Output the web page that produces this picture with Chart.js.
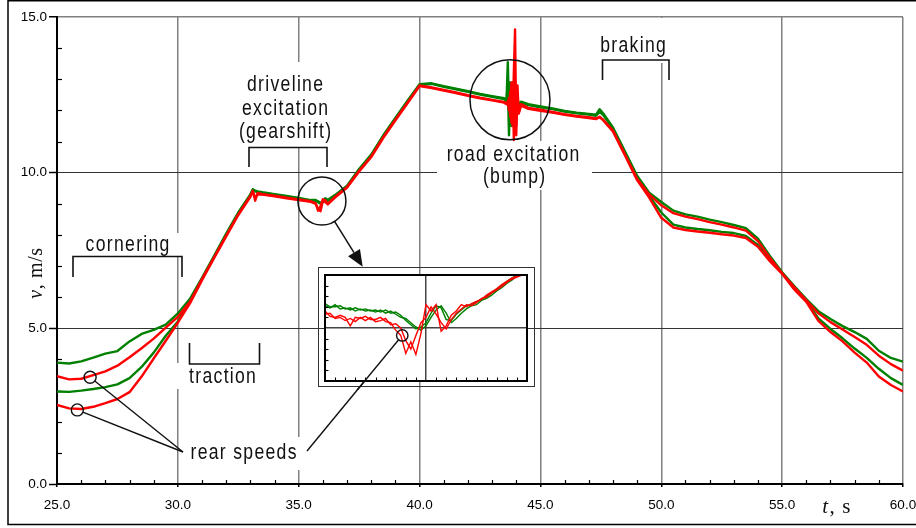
<!DOCTYPE html>
<html>
<head>
<meta charset="utf-8">
<title>Wheel speeds</title>
<script src="https://cdn.jsdelivr.net/npm/chart.js@4.4.1/dist/chart.umd.min.js"></script>
<style>
  html, body { margin: 0; padding: 0; background: #fff; }
  #wrap { position: relative; width: 916px; height: 528px; overflow: hidden; background: #fff; }
  #main { position: absolute; left: 0; top: 0; width: 916px; height: 528px; }
  #inset { position: absolute; left: 316px; top: 266px; width: 222px; height: 124px; }
</style>
</head>
<body>
<div id="wrap">
  <canvas id="main" width="916" height="528"></canvas>
  <canvas id="inset" width="222" height="124"></canvas>
</div>
<script>
// ---- main plot: time (s) and wheel speeds (m/s) ----
const time = [
  25.0, 25.5, 26.0, 26.5, 27.0, 27.5, 28.0, 28.5, 29.0, 29.5, 30.0, 30.5, 31.0, 31.5, 32.0, 32.5,
  33.0, 33.1, 33.2, 33.3, 33.5, 34.0, 34.5, 35.0,
  35.5, 35.7, 35.8, 35.9, 36.0, 36.1, 36.2, 36.5,
  37.0, 37.5, 38.0, 38.5, 39.0, 39.5, 40.0, 40.5, 41.0, 41.5, 42.0, 42.5, 43.0,
  43.5, 43.6, 43.65, 43.7, 43.75, 43.8, 43.85, 43.9, 43.95, 44.0, 44.05, 44.1, 44.2, 44.5,
  45.0, 45.5, 46.0, 46.5, 47.0, 47.3, 47.45, 47.6,
  48.0, 48.5, 49.0, 49.5, 50.0, 50.5, 51.0, 51.5, 52.0, 52.5, 53.0, 53.5,
  54.0, 54.5, 55.0, 55.5, 56.0, 56.5, 57.0, 57.5, 58.0, 58.5, 59.0, 59.5, 60.0
];

// front wheels (green)
const frontOuter = [
  3.90, 3.87, 3.94, 4.06, 4.19, 4.27, 4.58, 4.82, 4.95, 5.12, 5.48, 5.95, 6.62, 7.33, 8.04, 8.72,
  9.30, 9.47, 9.42, 9.40, 9.37, 9.31, 9.25, 9.19,
  9.12, 9.12, 9.08, 9.03, 9.05, 9.18, 9.12, 9.28,
  9.58, 10.12, 10.58, 11.20, 11.76, 12.31, 12.84, 12.87, 12.78, 12.70, 12.62, 12.53, 12.46,
  12.39, 12.35, 13.55, 12.00, 12.90, 11.70, 12.60, 12.00, 12.50, 12.10, 12.35, 12.20, 12.28, 12.20,
  12.13, 12.06, 11.98, 11.93, 11.89, 11.86, 12.04, 11.90,
  11.45, 10.68, 9.90, 9.36, 9.06, 8.78, 8.66, 8.59, 8.49, 8.41, 8.32, 8.22,
  7.88, 7.32, 6.80, 6.36, 5.94, 5.55, 5.30, 5.07, 4.88, 4.66, 4.28, 4.05, 3.93
];
const frontInner = [
  2.97, 2.96, 3.00, 3.05, 3.11, 3.20, 3.40, 3.76, 4.22, 4.76, 5.22, 5.90, 6.60, 7.30, 8.01, 8.70,
  9.28, 9.44, 9.40, 9.38, 9.35, 9.29, 9.23, 9.17,
  9.10, 9.10, 9.05, 9.00, 9.08, 9.15, 9.10, 9.26,
  9.56, 10.10, 10.55, 11.18, 11.74, 12.29, 12.82, 12.85, 12.76, 12.68, 12.60, 12.51, 12.44,
  12.36, 12.30, 12.90, 11.20, 12.70, 11.50, 12.80, 11.60, 12.40, 11.90, 12.30, 12.10, 12.25, 12.17,
  12.10, 12.04, 11.96, 11.91, 11.87, 11.83, 11.95, 11.85,
  11.42, 10.64, 9.86, 9.25, 8.72, 8.33, 8.24, 8.19, 8.15, 8.10, 8.06, 7.97,
  7.68, 7.20, 6.77, 6.30, 5.88, 5.32, 4.98, 4.68, 4.35, 4.05, 3.70, 3.40, 3.18
];
// rear wheels (red)
const rearOuter = [
  3.46, 3.36, 3.38, 3.50, 3.62, 3.80, 4.07, 4.36, 4.67, 5.02, 5.37, 5.85, 6.58, 7.28, 7.98, 8.66,
  9.25, 9.42, 9.10, 9.35, 9.31, 9.26, 9.20, 9.14,
  9.08, 9.02, 8.78, 8.92, 9.15, 9.05, 9.00, 9.22,
  9.54, 10.06, 10.52, 11.14, 11.70, 12.25, 12.80, 12.74, 12.66, 12.58, 12.49, 12.41, 12.34,
  12.27, 12.22, 12.20, 12.40, 11.80, 12.90, 11.50, 13.20, 14.60, 11.20, 12.80, 11.90, 12.20, 12.08,
  12.02, 11.95, 11.88, 11.82, 11.78, 11.74, 11.78, 11.70,
  11.35, 10.58, 9.80, 9.30, 8.95, 8.70, 8.59, 8.51, 8.41, 8.33, 8.24, 8.14,
  7.80, 7.26, 6.77, 6.33, 5.90, 5.48, 5.20, 4.96, 4.72, 4.47, 4.12, 3.85, 3.64
];
const rearInner = [
  2.54, 2.43, 2.41, 2.48, 2.60, 2.73, 2.95, 3.45, 4.03, 4.60, 5.18, 5.80, 6.55, 7.26, 7.95, 8.64,
  9.22, 9.40, 9.20, 9.30, 9.30, 9.24, 9.18, 9.12,
  9.06, 9.00, 8.85, 8.76, 9.10, 9.12, 8.98, 9.20,
  9.52, 10.04, 10.50, 11.12, 11.68, 12.23, 12.78, 12.72, 12.64, 12.56, 12.47, 12.39, 12.32,
  12.25, 12.20, 12.30, 12.00, 12.60, 11.60, 12.90, 11.05, 13.00, 11.50, 12.60, 11.90, 12.15, 12.05,
  11.99, 11.93, 11.86, 11.80, 11.75, 11.72, 11.80, 11.68,
  11.32, 10.55, 9.76, 9.20, 8.55, 8.24, 8.16, 8.11, 8.07, 8.02, 7.98, 7.90,
  7.62, 7.15, 6.75, 6.25, 5.85, 5.24, 4.88, 4.58, 4.22, 3.90, 3.45, 3.18, 2.97
];

const xTickValues = [25, 30, 35, 40, 45, 50, 55, 60];
const yTickValues = [0, 5, 10, 15];

// ---- magnified gearshift window (raw samples) ----
const insetTime = [
  35.00, 35.05, 35.10, 35.15, 35.20, 35.25, 35.30, 35.35, 35.40, 35.45,
  35.50, 35.55, 35.60, 35.65, 35.70, 35.75, 35.80, 35.85, 35.90, 35.95,
  36.00, 36.05, 36.10, 36.15, 36.20, 36.25, 36.30, 36.35, 36.40, 36.45,
  36.50, 36.55, 36.60, 36.65, 36.70, 36.75, 36.80, 36.85, 36.90, 36.95,
  37.00
];
const insetFrontA = [
  9.21, 9.19, 9.22, 9.18, 9.19, 9.17, 9.19, 9.17, 9.18, 9.16,
  9.17, 9.15, 9.17, 9.14, 9.15, 9.12, 9.07, 9.03, 8.99, 9.01,
  9.05, 9.14, 9.21, 9.19, 9.08, 9.07, 9.13, 9.17, 9.21, 9.22,
  9.25, 9.27, 9.30, 9.33, 9.37, 9.40, 9.44, 9.47, 9.50, 9.52,
  9.54
];
const insetFrontB = [
  9.23, 9.20, 9.20, 9.21, 9.18, 9.19, 9.16, 9.18, 9.16, 9.17,
  9.15, 9.17, 9.14, 9.16, 9.13, 9.10, 9.09, 9.05, 9.01, 8.98,
  9.02, 9.10, 9.17, 9.21, 9.14, 9.05, 9.09, 9.14, 9.18, 9.21,
  9.22, 9.26, 9.28, 9.31, 9.35, 9.38, 9.42, 9.45, 9.49, 9.51,
  9.53
];
const insetRearA = [
  9.16, 9.11, 9.10, 9.12, 9.10, 9.02, 9.10, 9.09, 9.11, 9.08,
  9.08, 9.10, 9.06, 9.05, 8.98, 8.93, 8.76, 8.87, 8.75, 8.95,
  9.22, 9.16, 9.22, 8.97, 9.02, 9.12, 9.16, 9.22, 9.20, 9.23,
  9.25, 9.27, 9.31, 9.34, 9.37, 9.41, 9.44, 9.47, 9.49, 9.51,
  9.53
];
const insetRearB = [
  9.13, 9.14, 9.09, 9.10, 9.07, 9.09, 9.06, 9.10, 9.07, 9.10,
  9.06, 9.07, 9.09, 9.03, 9.04, 9.00, 8.88, 8.80, 8.93, 9.05,
  9.10, 9.20, 9.13, 9.05, 8.99, 9.08, 9.14, 9.18, 9.22, 9.21,
  9.24, 9.28, 9.29, 9.33, 9.36, 9.39, 9.43, 9.46, 9.48, 9.50,
  9.52
];

const GREEN = '#008000';
const RED = '#ff0000';
const INK = '#111';
const CLEAR = 'rgba(0,0,0,0)';
Chart.defaults.font.family = '"Liberation Sans", Arial, sans-serif';

const pairs = (xs, ys) => xs.map((x, i) => ({ x: x, y: ys[i] }));

// offset of the inset canvas inside the page
const INSET_LEFT = 316, INSET_TOP = 266;

// callouts (pixel geometry on the page)
const labelBoxes = [
  [80, 233, 102, 24],    // cornering
  [176, 363, 88, 26],    // traction
  [184, 437, 122, 33],   // rear speeds
  [234, 62, 104, 85],    // driveline excitation
  [437, 141, 155, 49],   // road excitation
  [592, 18, 84, 45]      // braking
];
const brackets = [
  [[73, 277], [73, 256.5], [182, 256.5], [182, 277]],
  [[189.5, 343], [189.5, 364], [259.5, 364], [259.5, 343]],
  [[249, 167], [249, 147.5], [327, 147.5], [327, 167]],
  [[602.5, 80], [602.5, 60], [669, 60], [669, 80]]
];
const labels = [
  ['cornering', 127.5, 251],
  ['traction', 222.5, 383],
  ['rear speeds', 243.5, 459],
  ['driveline', 285, 91],
  ['excitation', 285, 114.5],
  ['(gearshift)', 285, 138],
  ['road excitation', 513, 160.5],
  ['(bump)', 514, 182.5],
  ['braking', 633, 52]
];
const rearHubLeft = [183, 452];
const rearHubRight = [307, 451];
const arrowTip = [362.7, 266.7];
// circles marked on the data (time, speed) with pixel radius
const gearCircle = { t: 35.96, v: 9.09, r: 24 };
const bumpCircle = { t: 43.74, v: 12.34, r: 40 };
const rearMarks = [{ t: 26.37, v: 3.43, r: 6 }, { t: 25.84, v: 2.38, r: 6 }];
const insetMark = { t: 35.765, v: 8.93, r: 5.7 };

function drawSpaced(ctx, str, cx, baseline) {
  const k = 0.8, gap = 1.3;
  ctx.save();
  ctx.font = '22px "Liberation Sans", Arial, sans-serif';
  ctx.fillStyle = INK;
  ctx.textAlign = 'left';
  ctx.textBaseline = 'alphabetic';
  const chars = Array.from(str);
  const ws = chars.map(c => ctx.measureText(c).width * k);
  const total = ws.reduce((a, b) => a + b, 0) + gap * (chars.length - 1);
  let x = cx - total / 2;
  chars.forEach((c, i) => {
    ctx.save();
    ctx.translate(x, baseline);
    ctx.scale(k, 1);
    ctx.fillText(c, 0, 0);
    ctx.restore();
    x += ws[i] + gap;
  });
  ctx.restore();
}

function line(ctx, x1, y1, x2, y2) {
  ctx.beginPath(); ctx.moveTo(x1, y1); ctx.lineTo(x2, y2); ctx.stroke();
}

function edgeToward(cx, cy, r, tx, ty) {
  const dx = tx - cx, dy = ty - cy, d = Math.hypot(dx, dy);
  return [cx + dx / d * r, cy + dy / d * r];
}

function drawMixed(ctx, parts, x, y, spacing) {
  // parts: [font, text]
  let w = 0;
  parts.forEach(p => { ctx.font = p[0]; w += ctx.measureText(p[1]).width + spacing * p[1].length; });
  let cx = x - w / 2;
  parts.forEach(p => {
    ctx.font = p[0];
    Array.from(p[1]).forEach(ch => { ctx.fillText(ch, cx, y); cx += ctx.measureText(ch).width + spacing; });
  });
}

const annotate = {
  id: 'annotate',
  beforeDatasetsDraw(chart) {
    const ctx = chart.ctx, ca = chart.chartArea;
    const xs = chart.scales.x, ys = chart.scales.y;
    ctx.save();
    // minor ticks inside the plot
    ctx.strokeStyle = '#000';
    ctx.lineWidth = 1.2;
    for (let t = 26; t < 60; t++) {
      if (t % 5 === 0) continue;
      const px = Math.round(xs.getPixelForValue(t)) + 0.5;
      line(ctx, px, ca.bottom, px, ca.bottom - 4);
    }
    for (let v = 1; v < 15; v++) {
      if (v % 5 === 0) continue;
      const py = Math.round(ys.getPixelForValue(v)) + 0.5;
      line(ctx, ca.left, py, ca.left + 5, py);
    }
    // label backgrounds break the grid
    ctx.fillStyle = '#fff';
    labelBoxes.forEach(b => ctx.fillRect(b[0], b[1], b[2], b[3]));
    // brackets
    ctx.strokeStyle = INK;
    ctx.lineWidth = 1.6;
    brackets.forEach(pts => {
      ctx.beginPath();
      pts.forEach((p, i) => i ? ctx.lineTo(p[0], p[1]) : ctx.moveTo(p[0], p[1]));
      ctx.stroke();
    });
    labels.forEach(l => drawSpaced(ctx, l[0], l[1], l[2]));
    ctx.restore();
  },
  afterDatasetsDraw(chart) {
    const ctx = chart.ctx;
    const xs = chart.scales.x, ys = chart.scales.y;
    const at = m => [xs.getPixelForValue(m.t), ys.getPixelForValue(m.v)];
    ctx.save();
    ctx.strokeStyle = INK;
    ctx.fillStyle = INK;
    ctx.lineWidth = 1.5;
    // circles around the two excitations
    [gearCircle, bumpCircle].forEach(c => {
      const p = at(c);
      ctx.beginPath(); ctx.arc(p[0], p[1], c.r, 0, Math.PI * 2); ctx.stroke();
    });
    // arrow from the gearshift circle to the magnified view
    const g = at(gearCircle);
    const s = edgeToward(g[0], g[1], gearCircle.r, arrowTip[0], arrowTip[1]);
    const dx = arrowTip[0] - s[0], dy = arrowTip[1] - s[1], d = Math.hypot(dx, dy);
    const ux = dx / d, uy = dy / d, hl = 16.5, hw = 7;
    const bx = arrowTip[0] - ux * hl, by = arrowTip[1] - uy * hl;
    line(ctx, s[0], s[1], bx, by);
    ctx.beginPath();
    ctx.moveTo(arrowTip[0], arrowTip[1]);
    ctx.lineTo(bx - uy * hw, by + ux * hw);
    ctx.lineTo(bx + uy * hw, by - ux * hw);
    ctx.closePath();
    ctx.fill();
    // rear speed markers and leaders
    ctx.lineWidth = 1.4;
    rearMarks.forEach(m => {
      const p = at(m);
      ctx.beginPath(); ctx.arc(p[0], p[1], m.r, 0, Math.PI * 2); ctx.stroke();
      const e = edgeToward(p[0], p[1], m.r, rearHubLeft[0], rearHubLeft[1]);
      line(ctx, e[0], e[1], rearHubLeft[0], rearHubLeft[1]);
    });
    ctx.restore();
  },
  afterDraw(chart) {
    const ctx = chart.ctx;
    ctx.save();
    // outer frame
    ctx.strokeStyle = '#000';
    ctx.lineWidth = 1.5;
    ctx.beginPath();
    ctx.moveTo(930, 0.75); ctx.lineTo(8, 0.75); ctx.lineTo(8, 524.5); ctx.lineTo(930, 524.5);
    ctx.stroke();
    // axis titles
    ctx.fillStyle = INK;
    ctx.textAlign = 'left';
    ctx.textBaseline = 'alphabetic';
    ctx.save();
    ctx.translate(36, 273);
    ctx.rotate(-Math.PI / 2);
    drawMixed(ctx, [['italic 20px "Liberation Serif", serif', 'v'], ['20px "Liberation Serif", serif', ', m/s']], 0, 6, 0.6);
    ctx.restore();
    drawMixed(ctx, [['italic 21px "Liberation Serif", serif', 't'], ['21px "Liberation Serif", serif', ', s']], 837, 513, 1.2);
    ctx.restore();
  }
};

const mainChart = new Chart(document.getElementById('main'), {
  type: 'line',
  data: {
    datasets: [
      { label: 'front outer', data: pairs(time, frontOuter), borderColor: GREEN, order: 1 },
      { label: 'front inner', data: pairs(time, frontInner), borderColor: GREEN, order: 1 },
      { label: 'rear outer', data: pairs(time, rearOuter), borderColor: RED, order: 0 },
      { label: 'rear inner', data: pairs(time, rearInner), borderColor: RED, order: 0 }
    ]
  },
  options: {
    responsive: false,
    animation: false,
    events: [],
    layout: { padding: { left: 0, top: 17, right: 13, bottom: 0 } },
    elements: {
      point: { radius: 0 },
      line: { borderWidth: 2.4, tension: 0, fill: false, borderJoinStyle: 'round' }
    },
    plugins: { legend: { display: false }, tooltip: { enabled: false } },
    scales: {
      x: {
        type: 'linear', min: 25, max: 60,
        afterBuildTicks: s => { s.ticks = xTickValues.map(v => ({ value: v })); },
        afterFit: s => { s.height = 44; s.paddingLeft = 0; s.paddingRight = 0; },
        ticks: { callback: v => Number(v).toFixed(1), autoSkip: false, maxRotation: 0, padding: 10, color: '#000', font: { size: 13.5 } },
        grid: {
          color: c => (c.tick && c.tick.value === 25) ? CLEAR : '#808080',
          lineWidth: 1.5, tickLength: 3, tickColor: '#000', tickWidth: 1.5
        },
        border: { color: '#000', width: 2 }
      },
      y: {
        type: 'linear', min: 0, max: 15,
        afterBuildTicks: s => { s.ticks = yTickValues.map(v => ({ value: v })); },
        afterFit: s => { s.width = 57; },
        ticks: { callback: v => Number(v).toFixed(1), autoSkip: false, padding: 2, color: '#000', font: { size: 13.5 } },
        grid: {
          color: c => {
            const v = c.tick ? c.tick.value : null;
            if (v === 0) return CLEAR;
            return v === 15 ? '#808080' : '#333';
          },
          lineWidth: c => (c.tick && c.tick.value === 15) ? 1.5 : 1,
          tickLength: 8, tickColor: '#000', tickWidth: 1.5
        },
        border: { color: '#000', width: 2 }
      }
    }
  },
  plugins: [annotate]
});

const insetDecor = {
  id: 'insetDecor',
  beforeDraw(chart) {
    const ctx = chart.ctx, ca = chart.chartArea;
    ctx.save();
    ctx.fillStyle = '#fff';
    ctx.fillRect(ca.left, ca.top, ca.right - ca.left, ca.bottom - ca.top);
    ctx.restore();
  },
  afterDraw(chart) {
    const ctx = chart.ctx, ca = chart.chartArea;
    const xs = chart.scales.x, ys = chart.scales.y;
    ctx.save();
    ctx.strokeStyle = '#000';
    // minor ticks
    ctx.lineWidth = 1.1;
    for (let i = 1; i < 20; i++) {
      if (i === 10) continue;
      const px = Math.round(xs.getPixelForValue(35 + i / 10)) + 0.5;
      line(ctx, px, ca.bottom, px, ca.bottom - 3.5);
    }
    for (let i = 1; i < 10; i++) {
      if (i === 5) continue;
      const py = Math.round(ys.getPixelForValue(8.5 + i / 10)) + 0.5;
      line(ctx, ca.left, py, ca.left + 3.5, py);
    }
    // plot frame and outer frame
    ctx.lineWidth = 2;
    ctx.strokeRect(ca.left, ca.top, ca.right - ca.left, ca.bottom - ca.top);
    ctx.lineWidth = 1;
    ctx.strokeStyle = '#333';
    ctx.strokeRect(2.5, 1.5, 216, 119);
    // marker and its leader to the "rear speeds" label
    ctx.strokeStyle = INK;
    ctx.lineWidth = 1.4;
    const cx = xs.getPixelForValue(insetMark.t), cy = ys.getPixelForValue(insetMark.v);
    ctx.beginPath(); ctx.arc(cx, cy, insetMark.r, 0, Math.PI * 2); ctx.stroke();
    const hx = rearHubRight[0] - INSET_LEFT, hy = rearHubRight[1] - INSET_TOP;
    const e = edgeToward(cx, cy, insetMark.r, hx, hy);
    line(ctx, e[0], e[1], hx, hy);
    ctx.restore();
  }
};

const insetChart = new Chart(document.getElementById('inset'), {
  type: 'line',
  data: {
    datasets: [
      { label: 'front A', data: pairs(insetTime, insetFrontA), borderColor: GREEN, order: 1 },
      { label: 'front B', data: pairs(insetTime, insetFrontB), borderColor: GREEN, order: 1 },
      { label: 'rear A', data: pairs(insetTime, insetRearA), borderColor: RED, order: 0 },
      { label: 'rear B', data: pairs(insetTime, insetRearB), borderColor: RED, order: 0 }
    ]
  },
  options: {
    responsive: false,
    animation: false,
    events: [],
    layout: { padding: { left: 9, top: 9, right: 11, bottom: 9 } },
    elements: {
      point: { radius: 0 },
      line: { borderWidth: 1.4, tension: 0, fill: false, stepped: false }
    },
    plugins: { legend: { display: false }, tooltip: { enabled: false } },
    scales: {
      x: {
        type: 'linear', min: 35, max: 37,
        afterBuildTicks: s => { s.ticks = [35, 36, 37].map(v => ({ value: v })); },
        afterFit: s => { s.height = 0; s.paddingLeft = 0; s.paddingRight = 0; },
        ticks: { display: false },
        grid: { drawTicks: false, color: c => (c.tick && c.tick.value === 36) ? '#444' : CLEAR, lineWidth: 1.5 },
        border: { display: false }
      },
      y: {
        type: 'linear', min: 8.5, max: 9.5,
        afterBuildTicks: s => { s.ticks = [8.5, 9.0, 9.5].map(v => ({ value: v })); },
        afterFit: s => { s.width = 0; },
        ticks: { display: false },
        grid: { drawTicks: false, color: c => (c.tick && c.tick.value === 9) ? '#444' : CLEAR, lineWidth: 1.5 },
        border: { display: false }
      }
    }
  },
  plugins: [insetDecor]
});

// leader from "rear speeds" up to the magnified view, drawn on the page layer
(function () {
  const ctx = mainChart.ctx;
  ctx.save();
  ctx.strokeStyle = INK;
  ctx.lineWidth = 1.4;
  const cx = INSET_LEFT + insetChart.scales.x.getPixelForValue(insetMark.t);
  const cy = INSET_TOP + insetChart.scales.y.getPixelForValue(insetMark.v);
  const e = edgeToward(cx, cy, insetMark.r, rearHubRight[0], rearHubRight[1]);
  line(ctx, rearHubRight[0], rearHubRight[1], e[0], e[1]);
  ctx.restore();
})();
</script>
</body>
</html>
